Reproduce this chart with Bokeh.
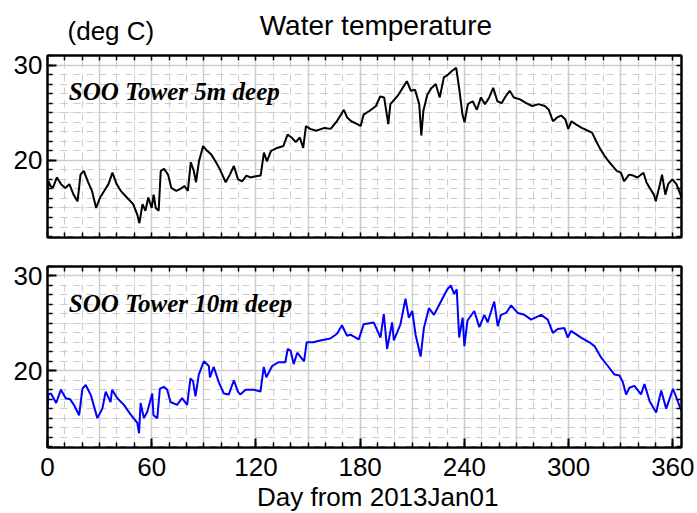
from bokeh.plotting import figure
from bokeh.models import Range1d, LinearAxis, SingleIntervalTicker, FixedTicker, Grid
from bokeh.layouts import column
from bokeh.embed import file_html
from bokeh.resources import INLINE
from bokeh.core.properties import value

# ---- data ----
day_5m = [0, 0.5, 1.8, 3.1, 5.4, 7.8, 10.2, 12.6, 15.0, 17.3, 19.0, 20.9, 23.2, 25.6, 28.0,
          30.3, 32.7, 35.1, 37.4, 39.8, 42.2, 45.7, 49.3, 51.7, 52.9, 54.7, 56.4, 58.0, 60.0,
          61.1, 62.3, 64.0, 65.2, 67.1, 69.4, 71.3, 74.2, 76.5, 78.9, 80.8, 82.5, 84.2, 85.5,
          87.2, 89.6, 91.9, 94.3, 96.7, 99.1, 102.6, 105.0, 107.3, 109.7, 112.1, 114.5, 116.8,
          119.2, 122.7, 124.6, 126.3, 128.7, 132.2, 135.8, 138.2, 140.5, 142.9, 145.3, 147.2,
          148.8, 151.2, 154.7, 159.5, 163.0, 166.6, 169.0, 170.6, 172.5, 174.9, 178.4, 180.3,
          182.0, 185.5, 189.1, 191.5, 193.8, 196.2, 197.4, 199.8, 202.1, 204.5, 206.9, 209.2,
          211.6, 214.0, 215.2, 216.4, 218.7, 221.1, 223.5, 225.8, 228.2, 230.6, 233.0, 235.3,
          237.2, 238.9, 240.1, 242.0, 244.8, 247.2, 249.5, 251.9, 254.3, 256.6, 259.0, 261.4,
          263.7, 266.1, 268.5, 272.0, 275.6, 279.1, 282.7, 286.3, 288.6, 291.0, 293.4, 295.7,
          298.1, 299.8, 301.7, 304.0, 307.6, 311.1, 313.5, 315.9, 318.2, 320.6, 323.0, 325.4,
          327.7, 330.1, 332.0, 334.8, 337.2, 339.6, 343.1, 344.8, 346.7, 349.1, 350.2, 352.6,
          353.8, 355.7, 357.3, 359.7, 362.1, 365.0]
temp_5m = [15.5, 17.8, 17.3, 17.1, 18.2, 17.5, 17.1, 17.5, 16.4, 15.7, 18.5, 18.9, 17.8, 16.8, 15.0,
           16.1, 16.8, 17.5, 18.7, 17.5, 16.8, 16.1, 15.4, 14.3, 13.4, 15.4, 14.7, 16.1, 15.0,
           16.4, 15.0, 14.7, 18.9, 19.1, 18.5, 17.1, 16.8, 17.0, 17.3, 16.8, 19.8, 18.9, 17.7,
           19.9, 21.5, 21.0, 20.6, 19.9, 19.1, 17.7, 18.5, 19.4, 18.0, 17.8, 18.4, 18.2,
           18.3, 18.4, 20.8, 19.9, 21.0, 21.3, 21.5, 22.7, 22.4, 21.9, 22.4, 21.3,
           23.6, 23.3, 23.1, 23.4, 23.3, 24.1, 24.8, 25.3, 24.5, 24.1, 23.8, 23.6,
           24.8, 25.2, 25.7, 26.7, 26.6, 23.8, 25.9, 26.4, 26.9, 27.6, 28.3, 27.3,
           27.4, 25.9, 22.6, 25.2, 26.9, 27.6, 28.0, 26.6, 28.7, 29.0, 29.4, 29.7,
           27.3, 24.8, 24.0, 25.9, 26.2, 25.3, 26.6, 25.9, 26.6, 27.6, 26.2, 26.0,
           26.7, 27.3, 26.6, 26.4, 26.0, 25.7, 25.9, 25.7, 25.3, 24.1, 24.5, 24.7,
           24.3, 23.3, 24.1, 23.8, 23.4, 23.1, 22.9, 22.0, 21.2, 20.5, 19.9, 19.4,
           18.9, 18.7, 17.8, 18.5, 18.4, 18.2, 18.7, 17.7, 17.1, 16.4, 15.7, 17.5,
           18.5, 16.4, 17.5, 18.0, 17.5, 16.1]

day_10m = [0, 0.5, 2.0, 5.0, 7.7, 10.5, 13.0, 15.5, 18.2, 20.1, 22.0, 25.0, 28.7, 31.6, 33.5,
           36.3, 37.2, 40.2, 44.0, 47.8, 51.7, 52.7, 53.6, 55.5, 57.5, 60.3, 61.0, 63.2, 64.7,
           67.0, 68.9, 70.8, 74.6, 77.5, 80.4, 82.3, 83.8, 85.2, 87.1, 90.0, 92.9, 93.5, 95.7,
           98.6, 101.5, 104.4, 107.3, 109.6, 111.0, 114.0, 118.8, 122.6, 124.5, 126.0, 129.3,
           133.1, 136.9, 138.3, 140.0, 141.7, 143.8, 147.7, 149.2, 153.0, 157.0, 162.8, 166.7,
           169.5, 172.4, 174.4, 179.2, 182.0, 187.8, 191.7, 193.6, 195.5, 198.4, 199.4, 203.2,
           206.1, 208.0, 210.0, 211.9, 214.8, 216.7, 219.6, 222.5, 224.8, 227.3, 230.2, 232.2,
           234.1, 235.6, 237.0, 239.0, 240.0, 241.8, 245.7, 248.6, 251.5, 253.4, 257.2, 259.2,
           261.1, 264.0, 266.9, 270.7, 274.6, 278.4, 284.2, 288.0, 290.9, 293.8, 297.6, 299.5,
           301.4, 307.2, 312.0, 314.9, 318.7, 322.6, 326.4, 329.3, 331.2, 333.1, 335.0, 337.9,
           341.7, 343.7, 346.6, 350.4, 353.3, 356.2, 360.1, 363.0, 364.9]
temp_10m = [16.0, 17.5, 17.6, 16.6, 18.0, 17.1, 17.0, 16.3, 15.3, 18.1, 18.5, 17.4, 15.0, 16.0, 17.8,
            16.7, 18.0, 17.1, 16.4, 15.4, 14.5, 13.4, 16.6, 15.0, 15.7, 17.6, 15.3, 15.0, 18.1,
            18.3, 18.0, 16.7, 16.4, 17.1, 16.4, 19.2, 18.9, 17.3, 19.6, 21.0, 20.5, 19.3, 20.4,
            18.8, 17.6, 17.5, 19.0, 17.8, 17.5, 18.0, 18.0, 17.8, 20.4, 19.3, 20.5,
            20.9, 20.9, 22.3, 22.1, 20.7, 21.9, 21.0, 23.0, 23.0, 23.2, 23.4, 23.9,
            24.8, 23.7, 23.8, 23.3, 24.9, 25.1, 23.5, 26.0, 22.3, 25.1, 23.2, 24.9,
            27.6, 25.6, 26.3, 23.8, 21.5, 24.5, 26.6, 25.9, 26.7, 27.6, 28.6, 29.0,
            28.1, 28.6, 23.5, 25.6, 22.6, 25.3, 26.3, 24.6, 25.9, 25.1, 27.3, 24.7,
            25.9, 26.1, 26.9, 26.1, 25.9, 25.4, 25.9, 25.4, 24.0, 24.4, 24.5, 23.5,
            24.2, 23.5, 23.0, 22.6, 21.4, 20.5, 19.6, 19.5, 18.8, 17.5, 18.2, 18.4,
            17.5, 18.6, 16.8, 15.6, 17.9, 16.0, 18.1, 16.7, 15.8]

title_text = "Water temperature"
unit_text = "(deg C)"
xlabel_text = "Day from 2013Jan01"
panel_labels = ["SOO Tower 5m deep", "SOO Tower 10m deep"]
x_minor_ticks = list(range(0, 361, 10))
y_minor_ticks = list(range(12, 32))

FONT = "Liberation Sans"
SERIF = "Liberation Serif"
GRID = "#cccccc"
W = 697


def text_strip(height):
    p = figure(width=W, height=height, output_backend="svg", toolbar_location=None,
               title=None,
               x_range=Range1d(0, W), y_range=Range1d(0, height),
               x_axis_location=None, y_axis_location=None,
               min_border=0, outline_line_color=None)
    p.xgrid.visible = False
    p.ygrid.visible = False
    return p


def style_axis(ax, tick_in_major=9, tick_in_minor=5):
    ax.axis_line_color = "black"
    ax.axis_line_width = 2
    ax.major_tick_in = tick_in_major
    ax.major_tick_out = 0
    ax.minor_tick_in = tick_in_minor
    ax.minor_tick_out = 0
    ax.major_tick_line_width = 2
    ax.minor_tick_line_width = 1.5
    ax.major_label_text_font = FONT
    ax.major_label_text_font_size = "26px"
    ax.major_label_text_color = "black"


def make_panel(height, top, bottom, x_labels):
    p = figure(width=W, height=height, output_backend="svg", toolbar_location=None,
               x_range=Range1d(0, 365), y_range=Range1d(11.9, 31.0),
               x_axis_location=None, y_axis_location=None,
               min_border_left=47, min_border_right=16,
               min_border_top=top, min_border_bottom=bottom)
    p.outline_line_color = "black"
    p.outline_line_width = 2

    left = LinearAxis(ticker=SingleIntervalTicker(interval=10, num_minor_ticks=10))
    style_axis(left)
    left.major_label_standoff = 5
    p.add_layout(left, "left")

    right = LinearAxis(ticker=FixedTicker(ticks=[], minor_ticks=y_minor_ticks))
    style_axis(right)
    p.add_layout(right, "right")

    top_ax = LinearAxis(ticker=FixedTicker(ticks=[], minor_ticks=x_minor_ticks))
    style_axis(top_ax)
    p.add_layout(top_ax, "above")

    if x_labels:
        below = LinearAxis(ticker=SingleIntervalTicker(interval=60, num_minor_ticks=6))
        style_axis(below)
        below.major_label_standoff = 10
    else:
        below = LinearAxis(ticker=FixedTicker(ticks=[], minor_ticks=x_minor_ticks))
        style_axis(below)
    p.add_layout(below, "below")

    xg = Grid(dimension=0, ticker=SingleIntervalTicker(interval=30, num_minor_ticks=3))
    xg.grid_line_color = GRID
    xg.grid_line_width = 1.5
    xg.minor_grid_line_color = GRID
    xg.minor_grid_line_dash = "7 6"
    yg = Grid(dimension=1, ticker=SingleIntervalTicker(interval=10, num_minor_ticks=10))
    yg.grid_line_color = GRID
    yg.grid_line_width = 1.5
    yg.minor_grid_line_color = GRID
    yg.minor_grid_line_dash = "7 6"
    p.add_layout(xg, "center")
    p.add_layout(yg, "center")
    return p


# header: unit label and title
head = text_strip(45)
head.text(x=[22], y=[15], text=[unit_text], text_font=value(FONT), text_font_size="26px",
          text_color="black", text_baseline="middle", text_align="left")
head.text(x=[361], y=[20], text=[title_text], text_font=value(FONT), text_font_size="28px",
          text_color="black", text_baseline="middle", text_align="center")

p1 = make_panel(205, 10, 13, False)
p1.line(day_5m, temp_5m, line_color="black", line_width=2)
p1.text(x=[12.3], y=[27.2], text=[panel_labels[0]], text_font=value(SERIF),
        text_font_style="bold italic", text_font_size="25px", text_baseline="middle",
        text_color="black")

p2 = make_panel(233, 16, 36, True)
p2.line(day_10m, temp_10m, line_color="blue", line_width=2)
p2.text(x=[12.3], y=[27.1], text=[panel_labels[1]], text_font=value(SERIF),
        text_font_style="bold italic", text_font_size="25px", text_baseline="middle",
        text_color="black")

foot = text_strip(30)
foot.text(x=[363], y=[17], text=[xlabel_text], text_font=value(FONT), text_font_size="26px",
          text_color="black", text_baseline="middle", text_align="center")

layout = column(head, p1, p2, foot, spacing=0)
open("out.html", "w").write(file_html(layout, INLINE))
